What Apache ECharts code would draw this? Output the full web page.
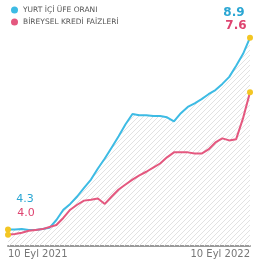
<!DOCTYPE html>
<html>
<head>
<meta charset="utf-8">
<script src="https://cdn.jsdelivr.net/npm/echarts@6/dist/echarts.min.js"></script>
<style>
  html, body { margin: 0; padding: 0; background: #fff; }
  #chart { width: 253px; height: 262px; }
</style>
</head>
<body>
<div id="chart"></div>
<script>
// series names and date labels
const seriesNames = ['YURT İÇİ ÜFE ORANI', 'BİREYSEL KREDİ FAİZLERİ'];
const dateLabels = ['10 Eyl 2021', '10 Eyl 2022'];

// values (36 points)
const blueValues = [4.30, 4.30, 4.31, 4.29, 4.29, 4.31, 4.34, 4.53, 4.78, 4.92, 5.10, 5.31,
  5.51, 5.78, 6.02, 6.29, 6.56, 6.85, 7.10, 7.07, 7.07, 7.05, 7.05, 7.02,
  6.92, 7.12, 7.27, 7.36, 7.46, 7.58, 7.68, 7.83, 8.00, 8.27, 8.56, 8.95];
const redValues = [4.17, 4.19, 4.22, 4.27, 4.29, 4.31, 4.36, 4.41, 4.58, 4.78, 4.90, 5.00,
  5.02, 5.05, 4.92, 5.10, 5.27, 5.39, 5.51, 5.61, 5.70, 5.80, 5.90, 6.05,
  6.17, 6.17, 6.17, 6.14, 6.14, 6.24, 6.41, 6.51, 6.46, 6.49, 7.00, 7.63];
const startLabels = ['4.3', '4.0'];
const endLabels = ['8.9', '7.6'];

const categories = blueValues.map((v, i) => 'p' + i);
const last = categories.length - 1;

// diagonal hatch for the area
const hatch = document.createElement('canvas');
hatch.width = 5; hatch.height = 5;
const hc = hatch.getContext('2d');
hc.strokeStyle = '#e2e2e2';
hc.lineWidth = 1;
hc.beginPath();
hc.moveTo(0, 5); hc.lineTo(5, 0);
hc.moveTo(-1, 1); hc.lineTo(1, -1);
hc.moveTo(4, 6); hc.lineTo(6, 4);
hc.stroke();

const blueColor = '#3dbbe4';
const redColor = '#e4587f';

function buildData(values, color, startText, endText, startOffset, endOffset) {
  return values.map((v, i) => {
    if (i === 0 || i === last) {
      const isEnd = i === last;
      return {
        value: v,
        symbol: 'circle',
        symbolSize: 6,
        itemStyle: { color: '#f3c623', borderWidth: 0 },
        label: {
          show: true,
          position: 'inside',
          offset: isEnd ? endOffset : startOffset,
          formatter: isEnd ? endText : startText,
          color: color,
          fontSize: isEnd ? 12 : 11,
          fontWeight: isEnd ? 'bold' : 'normal',
          fontFamily: 'DejaVu Sans'
        }
      };
    }
    return { value: v, symbol: 'none' };
  });
}

const chart = echarts.init(document.getElementById('chart'));
chart.setOption({
  animation: false,
  legend: {
    orient: 'vertical',
    left: 6,
    top: 1,
    itemWidth: 7,
    itemHeight: 7,
    itemGap: 4,
    icon: 'circle',
    textStyle: { color: '#555', fontSize: 7.5, fontFamily: 'DejaVu Sans' },
    data: seriesNames
  },
  grid: { left: 8, right: 3, top: 15, bottom: 16 },
  xAxis: {
    type: 'category',
    boundaryGap: false,
    data: categories,
    axisLine: { lineStyle: { color: '#9a9a9a', width: 2 } },
    axisTick: { show: false },
    axisLabel: {
      interval: (idx) => idx === 0 || idx === last,
      formatter: (val, idx) => idx === 0 ? dateLabels[0] : dateLabels[1],
      alignMinLabel: 'left',
      alignMaxLabel: 'right',
      color: '#777',
      fontSize: 10,
      margin: 3,
      fontFamily: 'DejaVu Sans'
    }
  },
  yAxis: {
    type: 'value',
    min: 3.9,
    max: 9.5,
    show: false,
    splitLine: { show: false }
  },
  series: [
    {
      name: seriesNames[0],
      type: 'line',
      color: blueColor,
      showSymbol: true,
      lineStyle: { color: blueColor, width: 2 },
      areaStyle: { color: { image: hatch, repeat: 'repeat' }, opacity: 1 },
      data: buildData(blueValues, '#2aa6d3', startLabels[0], endLabels[0], [17, -30], [-16, -25]),
      z: 3
    },
    {
      name: seriesNames[1],
      type: 'line',
      color: redColor,
      showSymbol: true,
      lineStyle: { color: redColor, width: 2 },
      data: buildData(redValues, '#de4470', startLabels[1], endLabels[1], [18, -22], [-14, -66]),
      z: 4
    }
  ]
});
</script>
</body>
</html>
